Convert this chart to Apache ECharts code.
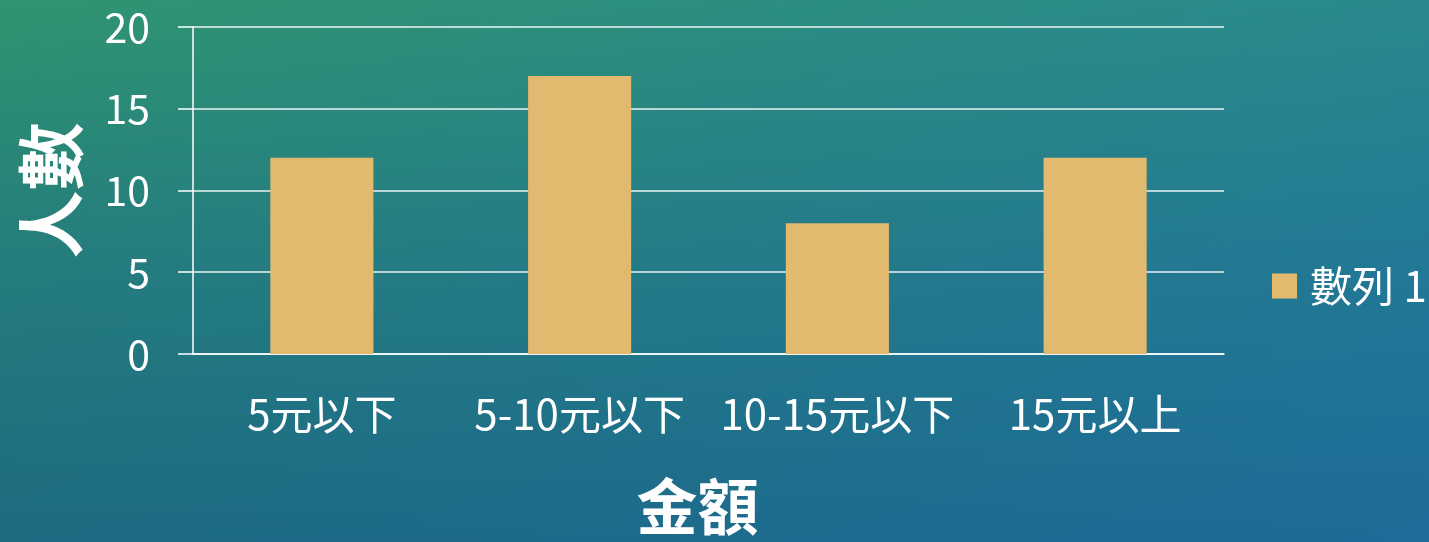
<!DOCTYPE html>
<html>
<head>
<meta charset="utf-8">
<script src="https://cdn.jsdelivr.net/npm/echarts@6/dist/echarts.min.js"></script>
<style>
html,body{margin:0;padding:0;width:1429px;height:542px;overflow:hidden;}
body{
  background-image:
    linear-gradient(to right, rgba(30,110,210,0) 0%, rgba(30,110,210,0.3) 100%),
    linear-gradient(to bottom, #2f9470 0%, #247c7c 50%, #1c6a80 100%);
}
#chart{width:1429px;height:542px;}
</style>
</head>
<body>
<div id="chart"></div>
<script>
const categories = ['5元以下', '5-10元以下', '10-15元以下', '15元以上'];
const seriesName = '數列 1';
const values = [12, 17, 8, 12];
const yMin = 0, yMax = 20, yInterval = 5;
const xTitle = '金額';
const yTitle = '人數';

const font = "'Noto Sans CJK TC', 'Noto Sans', sans-serif";
const chart = echarts.init(document.getElementById('chart'));
chart.setOption({
  backgroundColor: 'transparent',
  animation: false,
  textStyle: { fontFamily: font },
  grid: { left: 193, right: 205, top: 27, bottom: 186, containLabel: false },
  legend: {
    data: [seriesName],
    left: 1267, top: 260,
    icon: 'rect', itemWidth: 25, itemHeight: 25,
    textStyle: { color: '#ffffff', fontSize: 42, lineHeight: 42, fontFamily: font, padding: [0,0,0,8] }
  },
  xAxis: {
    type: 'category',
    data: categories,
    name: xTitle,
    nameLocation: 'middle',
    nameGap: 122,
    nameTextStyle: { color: '#ffffff', fontSize: 61, fontWeight: 'bold', lineHeight: 61, fontFamily: font, padding: [0, 22, 0, 0] },
    axisLine: { show: true, lineStyle: { color: '#ffffff', width: 1.5 } },
    axisTick: { show: false },
    axisLabel: { color: '#ffffff', fontSize: 42, lineHeight: 42, margin: 39, fontFamily: font, interval: 0 },
    splitLine: { show: false }
  },
  yAxis: {
    type: 'value',
    min: yMin, max: yMax, interval: yInterval,
    name: yTitle,
    nameLocation: 'middle',
    nameRotate: 90,
    nameGap: 108,
    nameTextStyle: { color: '#ffffff', fontSize: 68, fontWeight: 'bold', fontFamily: font },
    axisLine: { show: true, lineStyle: { color: '#ffffff', width: 1.5 } },
    axisTick: { show: true, length: 15, lineStyle: { color: '#ffffff', width: 1.5 } },
    axisLabel: { color: '#ffffff', fontSize: 41, margin: 43, fontFamily: font },
    splitLine: { show: true, lineStyle: { color: 'rgba(255,255,255,0.9)', width: 1.5 } }
  },
  series: [{
    name: seriesName,
    type: 'bar',
    data: values,
    barWidth: '40%',
    itemStyle: { color: '#e1b96f' }
  }]
});
</script>
</body>
</html>
